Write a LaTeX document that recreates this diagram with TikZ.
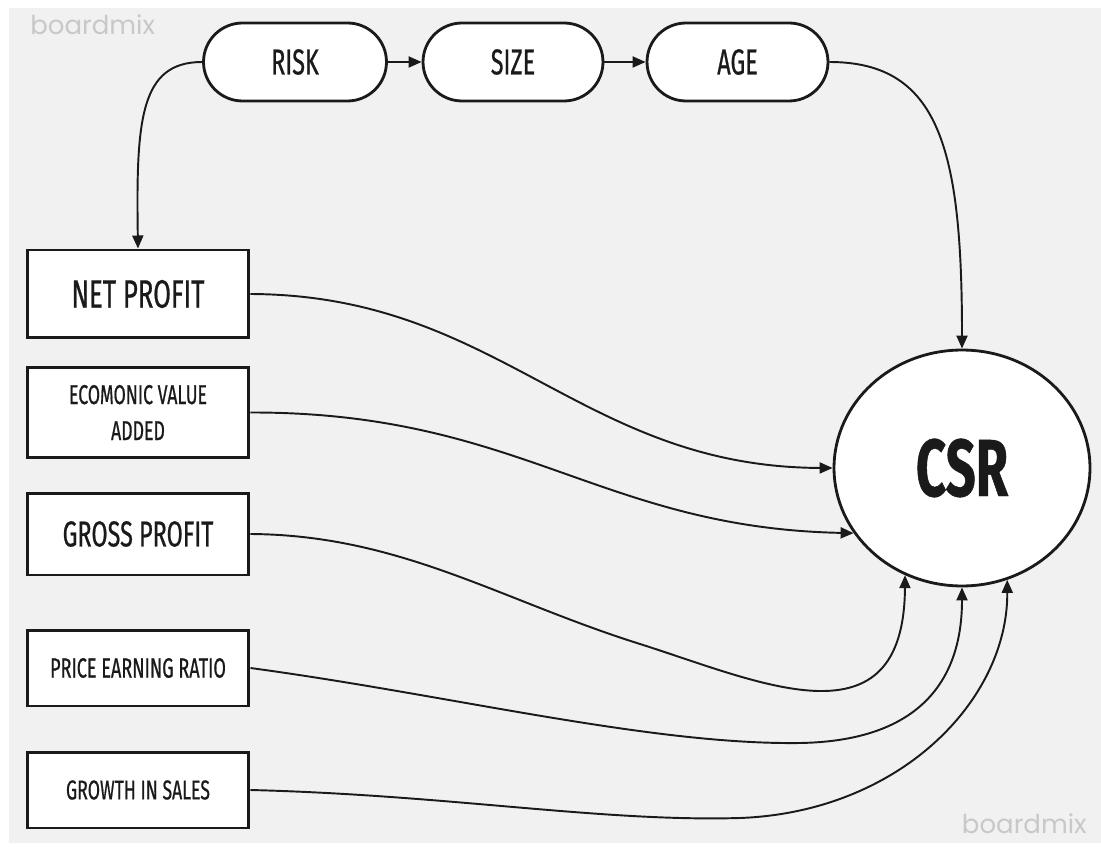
\documentclass[tikz,border=0pt]{standalone}
\usepackage{fontspec}
\usetikzlibrary{shapes.geometric,arrows.meta}
\newfontfamily\cond[FakeStretch=0.65,FakeBold=0.6]{Fira Sans}
\newfontfamily\wmfont{Poppins}
\definecolor{bg}{RGB}{241,241,241}
\definecolor{ink}{RGB}{26,26,26}
\definecolor{wm}{RGB}{200,200,200}
\begin{document}
\begin{tikzpicture}[x=0.02cm,y=-0.02cm,
  pill/.style={draw=ink,fill=white,line width=1.6pt,rounded corners=0.78cm,minimum height=1.56cm,inner sep=0pt,text=ink},
  boxnode/.style={draw=ink,fill=white,line width=1.7pt,minimum width=4.44cm,inner sep=0pt,text=ink,align=center},
  conn/.style={draw=ink,line width=1.1pt,-{Triangle[length=0.26cm,width=0.22cm]}},
  wmtext/.style={text=wm,inner sep=0pt,font=\wmfont\fontsize{14.8}{17}\selectfont}]
\useasboundingbox (0,0) rectangle (1101,847);
\fill[white] (0,0) rectangle (1101,847);
\fill[bg] (9,8) rectangle (1101,843);
\node[wmtext,anchor=base west] (wm1) at (30,35) {boardmix};
\node[wmtext,anchor=base east] (wm2) at (1087,833) {boardmix};
% top pills
\node[pill,minimum width=3.66cm,font=\cond\fontsize{20.5}{24}\selectfont] (risk) at (295,62) {RISK};
\node[pill,minimum width=3.60cm,font=\cond\fontsize{20.5}{24}\selectfont] (size) at (513,62) {SIZE};
\node[pill,minimum width=3.62cm,font=\cond\fontsize{20.5}{24}\selectfont] (age) at (737.5,62) {AGE};
% left boxes
\node[boxnode,minimum height=1.76cm,font=\cond\fontsize{22.5}{26}\selectfont] (net) at (138,294) {NET PROFIT};
\node[boxnode,minimum height=1.82cm,font=\cond\fontsize{15.5}{20.5}\selectfont] (eva) at (138,412.5) {ECOMONIC VALUE\\ADDED};
\node[boxnode,minimum height=1.64cm,font=\cond\fontsize{20.5}{24}\selectfont] (gross) at (138,534) {GROSS PROFIT};
\node[boxnode,minimum height=1.52cm,font=\cond\fontsize{15.8}{19}\selectfont] (price) at (138,668) {PRICE EARNING RATIO};
\node[boxnode,minimum height=1.52cm,font=\cond\fontsize{15.5}{19}\selectfont] (growth) at (138,790) {GROWTH IN SALES};
% CSR
\node[ellipse,draw=ink,fill=white,line width=1.6pt,minimum width=5.12cm,minimum height=4.72cm,inner sep=0pt,text=ink,font=\cond\bfseries\fontsize{46}{50}\selectfont] (csr) at (962,468) {CSR};
% connectors
\draw[conn] (risk.east) -- (size.west);
\draw[conn] (size.east) -- (age.west);
\draw[conn] (risk.west) .. controls (140,62) and (136,120) .. (net.north);
\draw[conn] (age.east) .. controls (940,62) and (962,150) .. (csr.north);
\draw[conn] (net.east) .. controls (500,295) and (580,467) .. (csr.west);
\draw[conn] (eva.east) .. controls (520,412) and (600,528) .. (csr.211);
\draw[conn] (gross.east) .. controls (400,535) and (500,600) .. (640,644) .. controls (760,682) and (904,750) .. (csr.242);
\draw[conn] (price.east) .. controls (450,695) and (650,745) .. (800,743) .. controls (920,741) and (962,680) .. (csr.south);
\draw[conn] (growth.east) .. controls (450,795) and (600,822) .. (740,818) .. controls (900,812) and (1008,700) .. (csr.292);
\end{tikzpicture}
\end{document}
